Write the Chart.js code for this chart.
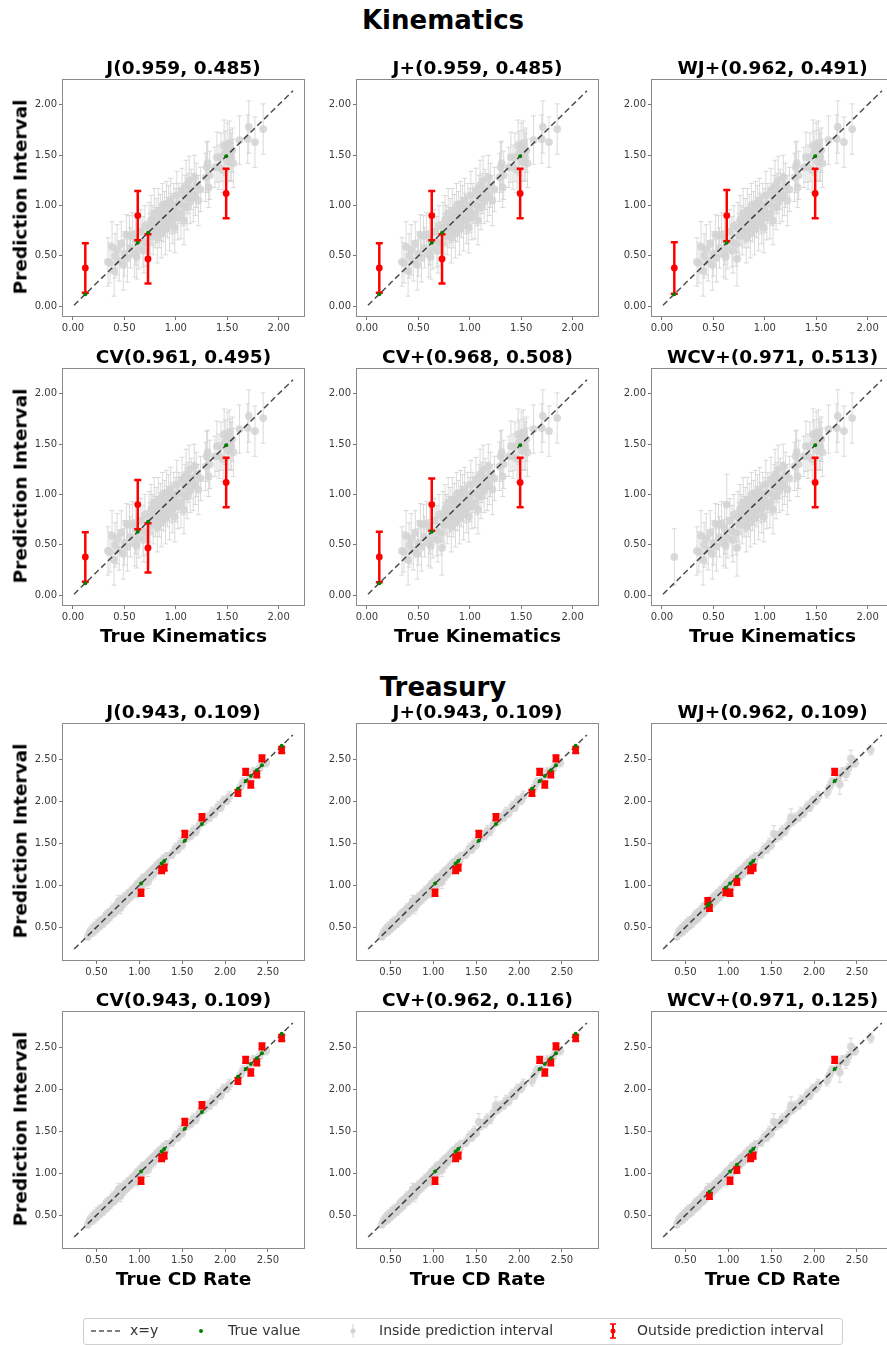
<!DOCTYPE html>
<html>
<head>
<meta charset="utf-8">
<script src="https://cdn.jsdelivr.net/npm/chart.js@4"></script>
<style>
  body { margin: 0; width: 887px; height: 1345px; position: relative; overflow: hidden; background: #fff; font-family: 'DejaVu Sans', sans-serif; }
  .lbl { position: absolute; transform: translate(-50%, -50%); white-space: nowrap; color: #000; font-weight: bold; }
  .ytitle { transform: translate(-50%, -50%) rotate(-90deg); }
  .legend { position: absolute; left: 83px; top: 1318px; width: 758px; height: 25px; border: 1px solid #cfcfcf; border-radius: 3px; font-size: 14px; color: #333; }
  .legend span { position: absolute; top: 3px; }
  .legend svg { position: absolute; top: 2px; }
</style>
</head>
<body>
<script>
// Kinematics: points inside the interval (true value, prediction, half width)
const kinTrue = [0.34, 0.36, 0.38, 0.40, 0.41, 0.43, 0.45, 0.47, 0.49, 0.50,
  0.52, 0.53, 0.55, 0.56, 0.58, 0.60, 0.61, 0.62, 0.64, 0.66, 0.68, 0.69, 0.70, 0.72, 0.74,
  0.75, 0.76, 0.77, 0.78, 0.79, 0.80, 0.81, 0.82, 0.83, 0.84, 0.85, 0.86, 0.87, 0.88, 0.89,
  0.90, 0.91, 0.92, 0.93, 0.94, 0.95, 0.96, 0.97, 0.98, 0.99,
  1.00, 1.01, 1.02, 1.03, 1.05, 1.06, 1.07, 1.08, 1.09, 1.10, 1.11, 1.12, 1.13, 1.14, 1.15,
  1.17, 1.18, 1.19, 1.20, 1.22, 1.24,
  1.29, 1.30, 1.31, 1.32, 1.33, 1.38, 1.40, 1.42, 1.44, 1.46, 1.47, 1.48, 1.50, 1.51, 1.52,
  1.53, 1.54, 1.55, 1.56,
  1.62, 1.70, 1.71, 1.77, 1.85];
const kinPred = [0.44, 0.43, 0.59, 0.35, 0.50, 0.56, 0.45, 0.62, 0.41, 0.52,
  0.71, 0.48, 0.70, 0.58, 0.71, 0.52, 0.66, 0.49, 0.57, 0.74, 0.64, 0.55, 0.80, 0.62, 0.78,
  0.70, 0.86, 0.80, 0.73, 0.92, 0.78, 0.85, 0.68, 0.95, 0.78, 0.88, 0.72, 1.00, 0.84, 0.92,
  0.76, 1.02, 0.88, 0.97, 0.80, 1.05, 0.92, 0.86, 1.00, 0.78,
  0.95, 1.10, 0.88, 1.02, 0.92, 1.15, 1.00, 0.85, 1.08, 1.20, 0.98, 1.12, 1.25, 1.04, 1.16,
  1.08, 1.28, 1.10, 1.20, 1.05, 1.16,
  1.28, 1.38, 1.42, 1.18, 1.30, 1.38, 1.48, 1.38, 1.48, 1.35, 1.60, 1.52, 1.58, 1.44, 1.62,
  1.50, 1.48, 1.55, 1.42,
  1.65, 1.66, 1.78, 1.63, 1.76];
const kinHalf = [0.24, 0.20, 0.25, 0.25, 0.22, 0.25, 0.20, 0.22, 0.25, 0.22,
  0.20, 0.24, 0.20, 0.20, 0.22, 0.23, 0.25, 0.22, 0.20, 0.22, 0.25, 0.22, 0.20, 0.22, 0.25,
  0.22, 0.24, 0.20, 0.22, 0.25, 0.20, 0.22, 0.25, 0.22, 0.20, 0.23, 0.24, 0.22, 0.20, 0.22,
  0.25, 0.22, 0.20, 0.23, 0.25, 0.22, 0.20, 0.24, 0.22, 0.25,
  0.22, 0.24, 0.22, 0.20, 0.25, 0.22, 0.20, 0.24, 0.22, 0.25, 0.22, 0.20, 0.24, 0.22, 0.20,
  0.24, 0.22, 0.20, 0.22, 0.25, 0.22,
  0.24, 0.25, 0.22, 0.20, 0.24, 0.20, 0.25, 0.22, 0.24, 0.22, 0.25, 0.22, 0.24, 0.20, 0.22,
  0.25, 0.24, 0.22, 0.24,
  0.24, 0.24, 0.26, 0.25, 0.25];

// Kinematics: the few points that fall outside in some methods
const kinSpecTrue = [0.12, 0.63, 0.73, 1.49];
const kinSpecPred = [0.38, 0.90, 0.47, 1.12];
const kinSpecHalf = [
  [0.245, 0.245, 0.245, 0.245],   // J
  [0.245, 0.245, 0.245, 0.245],   // J+
  [0.255, 0.255, 0.27, 0.245],    // WJ+
  [0.245, 0.245, 0.245, 0.245],   // CV
  [0.25, 0.26, 0.27, 0.245],      // CV+
  [0.28, 0.30, 0.28, 0.245]       // WCV+
];

// Treasury
const treasTrue = [0.40, 0.42, 0.44, 0.45, 0.47, 0.48, 0.50, 0.51, 0.53, 0.54,
  0.55, 0.57, 0.58, 0.60, 0.61, 0.62, 0.64, 0.65, 0.66, 0.68,
  0.69, 0.70, 0.71, 0.73, 0.74, 0.75, 0.77, 0.78, 0.79, 0.80,
  0.82, 0.83, 0.84, 0.86, 0.87, 0.88, 0.90, 0.91, 0.92, 0.94,
  0.95, 0.97, 0.98, 1.00, 1.01, 1.03, 1.04, 1.05, 1.07, 1.08,
  1.10, 1.11, 1.13, 1.14, 1.16, 1.17, 1.19, 1.20, 1.22, 1.23,
  1.25, 1.27, 1.28, 1.30, 1.32,
  1.38, 1.42, 1.45, 1.48, 1.50, 1.56, 1.60, 1.63, 1.66, 1.70,
  1.75, 1.78, 1.82, 1.85, 1.88, 1.92, 1.95, 1.98, 2.02, 2.05,
  2.18, 2.21, 2.28, 2.33, 2.40, 2.45, 2.48];
const treasPred = [0.39, 0.44, 0.43, 0.48, 0.45, 0.51, 0.48, 0.54, 0.51, 0.57,
  0.53, 0.59, 0.55, 0.62, 0.58, 0.65, 0.61, 0.68, 0.63, 0.70,
  0.66, 0.73, 0.68, 0.75, 0.71, 0.78, 0.74, 0.81, 0.76, 0.83,
  0.79, 0.86, 0.81, 0.88, 0.84, 0.91, 0.87, 0.94, 0.89, 0.96,
  0.92, 1.00, 1.01, 1.03, 0.98, 1.06, 1.08, 1.02, 1.10, 1.05,
  1.13, 1.09, 1.16, 1.11, 1.19, 1.14, 1.22, 1.17, 1.25, 1.20,
  1.28, 1.24, 1.31, 1.27, 1.34,
  1.37, 1.44, 1.43, 1.50, 1.48, 1.58, 1.59, 1.65, 1.64, 1.72,
  1.76, 1.80, 1.81, 1.87, 1.86, 1.94, 1.93, 2.00, 2.01, 2.06,
  2.17, 2.23, 2.27, 2.35, 2.39, 2.47, 2.46];
const treasHalf = [0.04, 0.05, 0.04, 0.05, 0.04, 0.05, 0.04, 0.05, 0.04, 0.05,
  0.05, 0.04, 0.05, 0.05, 0.04, 0.05, 0.05, 0.04, 0.05, 0.05,
  0.04, 0.05, 0.05, 0.04, 0.05, 0.05, 0.04, 0.05, 0.05, 0.04,
  0.05, 0.05, 0.04, 0.05, 0.05, 0.04, 0.05, 0.05, 0.04, 0.05,
  0.05, 0.05, 0.04, 0.05, 0.05, 0.04, 0.05, 0.05, 0.04, 0.05,
  0.05, 0.04, 0.05, 0.05, 0.04, 0.05, 0.05, 0.04, 0.05, 0.05,
  0.04, 0.05, 0.05, 0.04, 0.05,
  0.05, 0.06, 0.05, 0.06, 0.05, 0.06, 0.05, 0.06, 0.05, 0.06,
  0.05, 0.06, 0.05, 0.06, 0.05, 0.06, 0.05, 0.06, 0.05, 0.06,
  0.06, 0.05, 0.06, 0.05, 0.06, 0.06, 0.05];

const treasSpecTrue = [0.76, 0.78, 0.97, 1.02, 1.10, 1.26, 1.29, 1.53, 1.73, 2.15, 2.24, 2.30, 2.37, 2.43, 2.66];
const treasSpecPred = [0.81, 0.73, 0.92, 0.91, 1.04, 1.18, 1.21, 1.61, 1.81, 2.10, 2.35, 2.20, 2.32, 2.51, 2.61];
const treasSpecHalf = [
  [0.07, 0.07, 0.07, 0.035, 0.08, 0.035, 0.035, 0.035, 0.035, 0.035, 0.035, 0.035, 0.035, 0.035, 0.035],   // J
  [0.07, 0.07, 0.07, 0.035, 0.08, 0.035, 0.035, 0.035, 0.035, 0.035, 0.035, 0.035, 0.035, 0.035, 0.035],   // J+
  [0.035, 0.035, 0.035, 0.035, 0.035, 0.035, 0.035, 0.10, 0.10, 0.06, 0.035, 0.12, 0.07, 0.10, 0.06],     // WJ+
  [0.07, 0.07, 0.07, 0.035, 0.08, 0.035, 0.035, 0.035, 0.035, 0.035, 0.035, 0.035, 0.035, 0.035, 0.035],   // CV
  [0.07, 0.07, 0.07, 0.035, 0.08, 0.035, 0.035, 0.10, 0.10, 0.06, 0.035, 0.035, 0.035, 0.035, 0.035],     // CV+
  [0.07, 0.035, 0.07, 0.035, 0.035, 0.035, 0.035, 0.10, 0.10, 0.06, 0.035, 0.12, 0.07, 0.10, 0.06]       // WCV+
];

const kinTitles = ['J(0.959, 0.485)', 'J+(0.959, 0.485)', 'WJ+(0.962, 0.491)', 'CV(0.961, 0.495)', 'CV+(0.968, 0.508)', 'WCV+(0.971, 0.513)'];
const treasTitles = ['J(0.943, 0.109)', 'J+(0.943, 0.109)', 'WJ+(0.962, 0.109)', 'CV(0.943, 0.109)', 'CV+(0.962, 0.116)', 'WCV+(0.971, 0.125)'];
const kinTicks = [0, 0.5, 1, 1.5, 2];
const treasTicks = [0.5, 1, 1.5, 2, 2.5];
const kinRange = [-0.097, 2.247];
const treasRange = [0.11, 2.92];
const kinLine = [0.01, 2.14];
const treasLine = [0.24, 2.79];

// layout
const W = 241, H = 238, PADL = 50, PADT = 6, PADR = 8, XH = 24;
const colLeft = [63, 357, 652];
const rowTop = [78, 367, 722, 1010];

function addText(txt, x, y, size, cls) {
  const d = document.createElement('div');
  d.className = 'lbl' + (cls ? ' ' + cls : '');
  d.style.left = x + 'px';
  d.style.top = y + 'px';
  d.style.fontSize = size + 'px';
  d.textContent = txt;
  document.body.appendChild(d);
}

// draws the vertical error bars of a dataset just before its markers
const errorBars = {
  id: 'errorBars',
  beforeDatasetDraw(chart, args) {
    const ds = chart.data.datasets[args.index];
    if (!ds.errorBar) return;
    const xs = chart.scales.x, ys = chart.scales.y, ctx = chart.ctx, a = chart.chartArea;
    ctx.save();
    ctx.beginPath();
    ctx.rect(a.left, a.top, a.right - a.left, a.bottom - a.top);
    ctx.clip();
    ctx.strokeStyle = ds.errorBar.color;
    ctx.lineWidth = ds.errorBar.width;
    const c = ds.errorBar.cap;
    ds.data.forEach(p => {
      const px = xs.getPixelForValue(p.x);
      const t = ys.getPixelForValue(p.hi), b = ys.getPixelForValue(p.lo);
      ctx.beginPath();
      ctx.moveTo(px, t); ctx.lineTo(px, b);
      ctx.moveTo(px - c, t); ctx.lineTo(px + c, t);
      ctx.moveTo(px - c, b); ctx.lineTo(px + c, b);
      ctx.stroke();
    });
    ctx.restore();
  }
};

const frame = {
  id: 'frame',
  afterDatasetsDraw(chart) {
    const a = chart.chartArea, ctx = chart.ctx;
    ctx.save();
    ctx.strokeStyle = '#8a8a8a';
    ctx.lineWidth = 1;
    ctx.strokeRect(Math.round(a.left) - 0.5, Math.round(a.top) - 0.5, Math.round(a.right - a.left) + 1, Math.round(a.bottom - a.top) + 1);
    ctx.restore();
  }
};

function axis(range, ticks, isX) {
  return {
    type: 'linear',
    min: range[0],
    max: range[1],
    afterBuildTicks: s => { s.ticks = ticks.map(v => ({ value: v })); },
    afterFit: s => { if (isX) s.height = XH; else s.width = PADL; },
    ticks: {
      callback: v => Number(v).toFixed(2),
      font: { family: 'DejaVu Sans', size: 10 },
      color: '#3a3a3a',
      padding: 2,
      maxRotation: 0,
      autoSkip: false
    },
    grid: { drawOnChartArea: false, drawTicks: true, tickLength: 4, color: '#777' },
    border: { display: false }
  };
}

function buildPanel(g, i) {
  const row = g * 2 + Math.floor(i / 3), col = i % 3;
  const left = colLeft[col], top = rowTop[row];
  const tv = g ? treasTrue : kinTrue;
  const pv = g ? treasPred : kinPred;
  const hv = g ? treasHalf : kinHalf;
  const st = g ? treasSpecTrue : kinSpecTrue;
  const sp = g ? treasSpecPred : kinSpecPred;
  const sh = (g ? treasSpecHalf : kinSpecHalf)[i];
  const range = g ? treasRange : kinRange;
  const ticks = g ? treasTicks : kinTicks;
  const line = g ? treasLine : kinLine;

  const inside = tv.map((x, k) => ({ x: x, y: pv[k], lo: pv[k] - hv[k], hi: pv[k] + hv[k] }));
  const outside = [];
  st.forEach((x, k) => {
    const p = { x: x, y: sp[k], lo: sp[k] - sh[k], hi: sp[k] + sh[k] };
    if (x >= p.lo && x <= p.hi) inside.push(p); else outside.push(p);
  });
  const truth = outside.map(p => ({ x: p.x, y: p.x }));

  const canvas = document.createElement('canvas');
  canvas.width = PADL + W + PADR;
  canvas.height = PADT + H + XH;
  canvas.style.cssText = 'position:absolute;left:' + (left - PADL) + 'px;top:' + (top - PADT) + 'px';
  document.body.appendChild(canvas);

  new Chart(canvas.getContext('2d'), {
    type: 'scatter',
    data: {
      datasets: [
        { label: 'True value', data: truth, pointRadius: 2, pointBorderWidth: 0, backgroundColor: 'green' },
        { label: 'Outside prediction interval', data: outside, pointRadius: 3.4, pointBorderWidth: 0, backgroundColor: 'red',
          errorBar: { color: 'red', width: 2.5, cap: 3.5 } },
        { type: 'line', label: 'x=y', data: line.map(v => ({ x: v, y: v })), borderColor: 'rgba(0,0,0,0.7)', borderWidth: 1.5,
          borderDash: [6, 3.5], pointRadius: 0, fill: false },
        { label: 'Inside prediction interval', data: inside, pointRadius: 3.9, pointBorderWidth: 0, backgroundColor: 'rgba(211,211,211,0.85)',
          errorBar: { color: 'rgba(205,205,205,0.75)', width: 1, cap: 2.5 } }
      ]
    },
    options: {
      responsive: false,
      animation: false,
      devicePixelRatio: 1,
      layout: { padding: { left: 0, top: PADT, right: PADR, bottom: 0 }, autoPadding: false },
      plugins: { legend: { display: false }, tooltip: { enabled: false } },
      scales: { x: axis(range, ticks, true), y: axis(range, ticks, false) }
    },
    plugins: [errorBars, frame]
  });

  addText((g ? treasTitles : kinTitles)[i], left + W / 2, top - 11, 18.5);
  if (col === 0) addText('Prediction Interval', 20, top + H / 2, 18.5, 'ytitle');
  if (row === 1) addText('True Kinematics', left + W / 2, 635, 18.5);
  if (row === 3) addText('True CD Rate', left + W / 2, 1278, 18.5);
}

addText('Kinematics', 443, 20, 26);
addText('Treasury', 443, 687, 26);
for (let g = 0; g < 2; g++) {
  for (let i = 0; i < 6; i++) buildPanel(g, i);
}

// legend
const leg = document.createElement('div');
leg.className = 'legend';
leg.innerHTML =
  '<svg width="32" height="20" style="left:6px"><line x1="1" y1="10" x2="31" y2="10" stroke="#555" stroke-width="1.5" stroke-dasharray="5,3"/></svg>' +
  '<span style="left:46px">x=y</span>' +
  '<svg width="10" height="20" style="left:112px"><circle cx="5" cy="10" r="2" fill="green"/></svg>' +
  '<span style="left:144px">True value</span>' +
  '<svg width="10" height="20" style="left:264px"><line x1="5" y1="3" x2="5" y2="17" stroke="#d3d3d3" stroke-width="1"/><circle cx="5" cy="10" r="2.5" fill="#d3d3d3"/></svg>' +
  '<span style="left:295px">Inside prediction interval</span>' +
  '<svg width="10" height="20" style="left:524px"><line x1="5" y1="3" x2="5" y2="17" stroke="red" stroke-width="2"/><line x1="2" y1="3" x2="8" y2="3" stroke="red" stroke-width="1.5"/><line x1="2" y1="17" x2="8" y2="17" stroke="red" stroke-width="1.5"/><circle cx="5" cy="10" r="2.5" fill="red"/></svg>' +
  '<span style="left:553px">Outside prediction interval</span>';
document.body.appendChild(leg);
</script>
</body>
</html>
